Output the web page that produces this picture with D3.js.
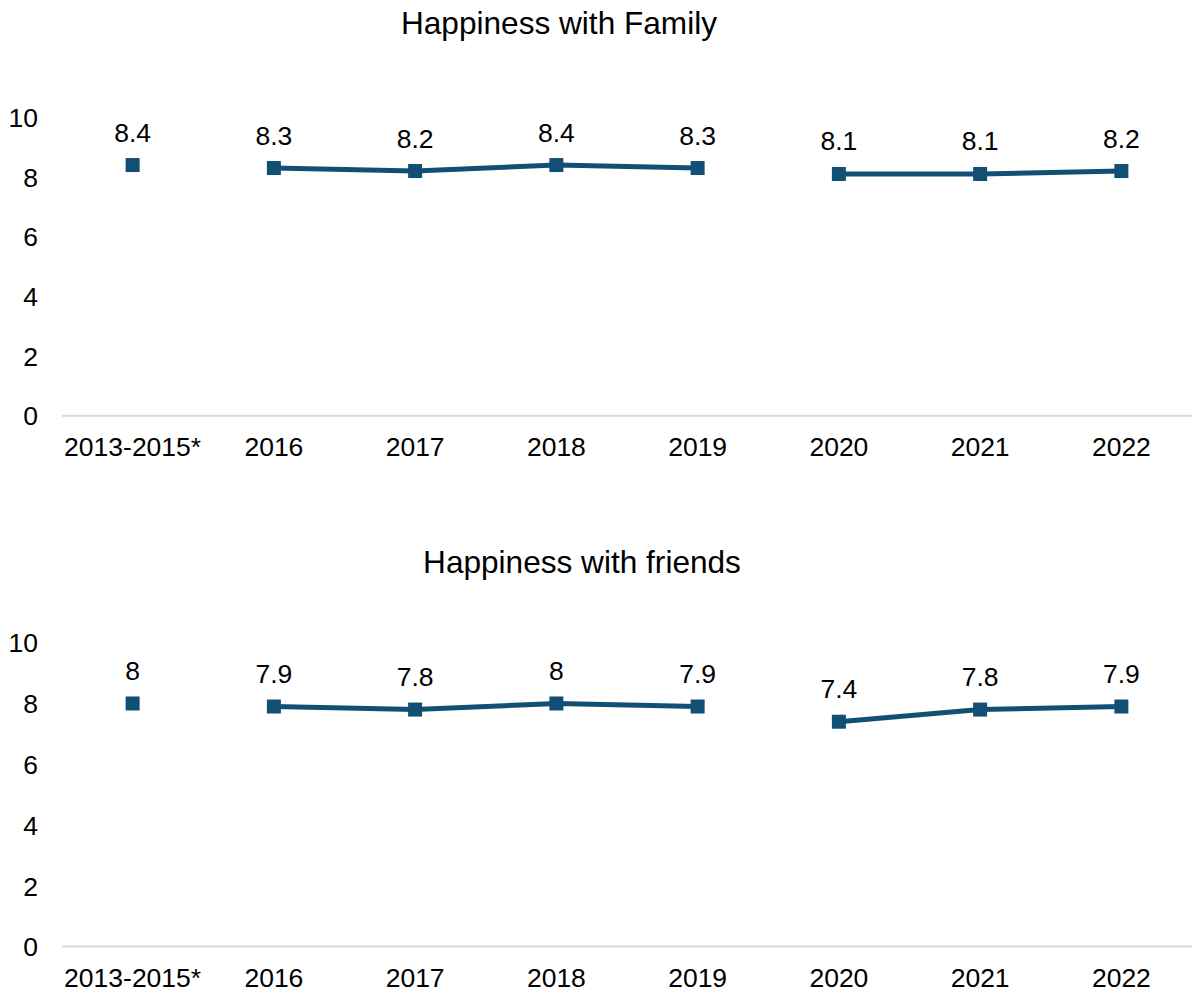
<!DOCTYPE html>
<html>
<head>
<meta charset="utf-8">
<script src="https://cdn.jsdelivr.net/npm/d3@7"></script>
<style>
  html, body { margin: 0; padding: 0; background: #fff; }
  svg { display: block; font-family: "Liberation Sans", Arial, sans-serif; }
</style>
</head>
<body>
<svg id="chart" width="1192" height="992"></svg>
<script>
const categories = ["2013-2015*", "2016", "2017", "2018", "2019", "2020", "2021", "2022"];
const familyValues = [8.4, 8.3, 8.2, 8.4, 8.3, 8.1, 8.1, 8.2];
const friendsValues = [8, 7.9, 7.8, 8, 7.9, 7.4, 7.8, 7.9];
const yTicks = [0, 2, 4, 6, 8, 10];
// groups of categories joined by a line (gaps mark survey changes)
const segments = [["2016", "2017", "2018", "2019"], ["2020", "2021", "2022"]];
const titles = ["Happiness with Family", "Happiness with friends"];

const svg = d3.select("#chart");
const color = "#124f75";

const panels = [
  { title: titles[0], values: familyValues, y0: 415.7, y10: 117.3, titleX: 559, titleY: 34 },
  { title: titles[1], values: friendsValues, y0: 946.6, y10: 642.7, titleX: 582, titleY: 573 }
];

const x = d3.scaleBand().domain(categories).range([62, 1192]);

panels.forEach(p => {
  const g = svg.append("g");
  const y = d3.scaleLinear().domain([0, 10]).range([p.y0, p.y10]);
  const data = categories.map((c, i) => ({ c, v: p.values[i] }));

  g.append("text")
    .attr("x", p.titleX).attr("y", p.titleY)
    .attr("text-anchor", "middle")
    .attr("font-size", 31.6)
    .attr("fill", "#000")
    .text(p.title);

  // y axis labels
  const yAxis = d3.axisLeft(y).tickValues(yTicks).tickSize(0).tickPadding(0);
  const ya = g.append("g").attr("transform", "translate(38,0)").call(yAxis);
  ya.select(".domain").remove();
  ya.selectAll("text").attr("font-size", 26.5).attr("fill", "#000")
    .attr("font-family", "Liberation Sans, Arial, sans-serif")
    .attr("dy", "0.35em");

  // x axis
  const xAxis = d3.axisBottom(x).tickSize(0).tickPadding(0);
  const xa = g.append("g").attr("transform", `translate(0,${p.y0})`).call(xAxis);
  xa.select(".domain").attr("stroke", "#d9d9d9").attr("stroke-width", 2)
    .attr("d", `M62,0H1192`);
  xa.selectAll("text").attr("font-size", 26.5).attr("fill", "#000")
    .attr("font-family", "Liberation Sans, Arial, sans-serif")
    .attr("y", 40).attr("dy", 0);

  const line = d3.line().x(d => x(d.c) + x.bandwidth() / 2).y(d => y(d.v));
  segments.forEach(seg => {
    const segData = data.filter(d => seg.includes(d.c));
    g.append("path").datum(segData)
      .attr("d", line)
      .attr("fill", "none")
      .attr("stroke", color)
      .attr("stroke-width", 5)
      .attr("stroke-linejoin", "round");
  });

  const ms = 14;
  g.selectAll("rect.m").data(data).enter().append("rect")
    .attr("class", "m")
    .attr("x", d => x(d.c) + x.bandwidth() / 2 - ms / 2)
    .attr("y", d => y(d.v) - ms / 2)
    .attr("width", ms).attr("height", ms)
    .attr("fill", color);

  g.selectAll("text.lbl").data(data).enter().append("text")
    .attr("class", "lbl")
    .attr("x", d => x(d.c) + x.bandwidth() / 2)
    .attr("y", d => y(d.v) - 23.5)
    .attr("text-anchor", "middle")
    .attr("font-size", 26.5)
    .attr("fill", "#000")
    .text(d => d3.format("~g")(d.v));
});
</script>
</body>
</html>
